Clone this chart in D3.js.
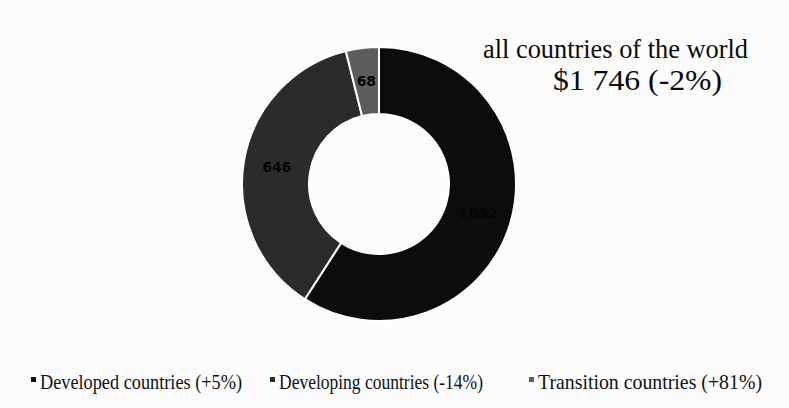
<!DOCTYPE html>
<html>
<head>
<meta charset="utf-8">
<script src="https://cdn.jsdelivr.net/npm/d3@7"></script>
<style>
  html, body { margin: 0; padding: 0; background: #fcfcfc; }
  svg { display: block; }
</style>
</head>
<body>
<svg id="chart" width="789" height="408"></svg>
<script>
const categories = ["Developed countries", "Developing countries", "Transition countries"];
const values = [1032, 646, 68];
const changes = ["(+5%)", "(-14%)", "(+81%)"];
const colors = ["#0c0c0c", "#2b2b2b", "#5d5d5d"];
const titleLines = ["all countries of the world", "$1 746 (-2%)"];

const svg = d3.select("#chart");
const W = 789, H = 408;
svg.append("rect").attr("width", W).attr("height", H).attr("fill", "#fcfcfc");

const cx = 379, cy = 184, rOuter = 137, rInner = 70;
const data = categories.map((c, i) => ({ name: c, value: values[i], change: changes[i], color: colors[i] }));

const pie = d3.pie().value(d => d.value).sort(null);
const arc = d3.arc().innerRadius(rInner).outerRadius(rOuter);
const labelArc = d3.arc().innerRadius((rInner + rOuter) / 2).outerRadius((rInner + rOuter) / 2);

const g = svg.append("g").attr("transform", `translate(${cx},${cy})`);
const arcs = pie(data);
g.selectAll("path").data(arcs).join("path")
  .attr("d", arc)
  .attr("fill", d => d.data.color)
  .attr("stroke", "#ffffff")
  .attr("stroke-width", 2);

g.selectAll("text.lbl").data(arcs).join("text")
  .attr("class", "lbl")
  .attr("transform", d => `translate(${labelArc.centroid(d)})`)
  .attr("text-anchor", "middle")
  .attr("dominant-baseline", "central")
  .attr("font-family", "DejaVu Sans, sans-serif")
  .attr("font-weight", "bold")
  .attr("font-size", 14)
  .attr("fill", "#050505")
  .text(d => d.data.value);

// Title
const titleX = [483, 553];
const titleY = [58, 90];
const titleSize = [28, 30];
const titleLen = [265, 169];
svg.selectAll("text.title").data(titleLines).join("text")
  .attr("class", "title")
  .attr("x", (d, i) => titleX[i])
  .attr("y", (d, i) => titleY[i])
  .attr("font-family", "Liberation Serif, Times New Roman, serif")
  .attr("font-size", (d, i) => titleSize[i])
  .attr("textLength", (d, i) => titleLen[i])
  .attr("lengthAdjust", "spacingAndGlyphs")
  .attr("fill", "#0a0a0a")
  .text(d => d);

// Legend
const legX = [31, 270, 529];
const legW = [202, 204, 224];
const leg = svg.selectAll("g.leg").data(data).join("g")
  .attr("class", "leg")
  .attr("transform", (d, i) => `translate(${legX[i]},382)`);
leg.append("rect")
  .attr("x", 0).attr("y", -5).attr("width", 5).attr("height", 5)
  .attr("fill", d => d.color);
leg.append("text")
  .attr("x", 9).attr("y", 0)
  .attr("dominant-baseline", "central")
  .attr("font-family", "Liberation Serif, Times New Roman, serif")
  .attr("font-size", 21)
  .attr("fill", "#111")
  .attr("textLength", (d, i) => legW[i])
  .attr("lengthAdjust", "spacingAndGlyphs")
  .text(d => `${d.name} ${d.change}`);
</script>
</body>
</html>
